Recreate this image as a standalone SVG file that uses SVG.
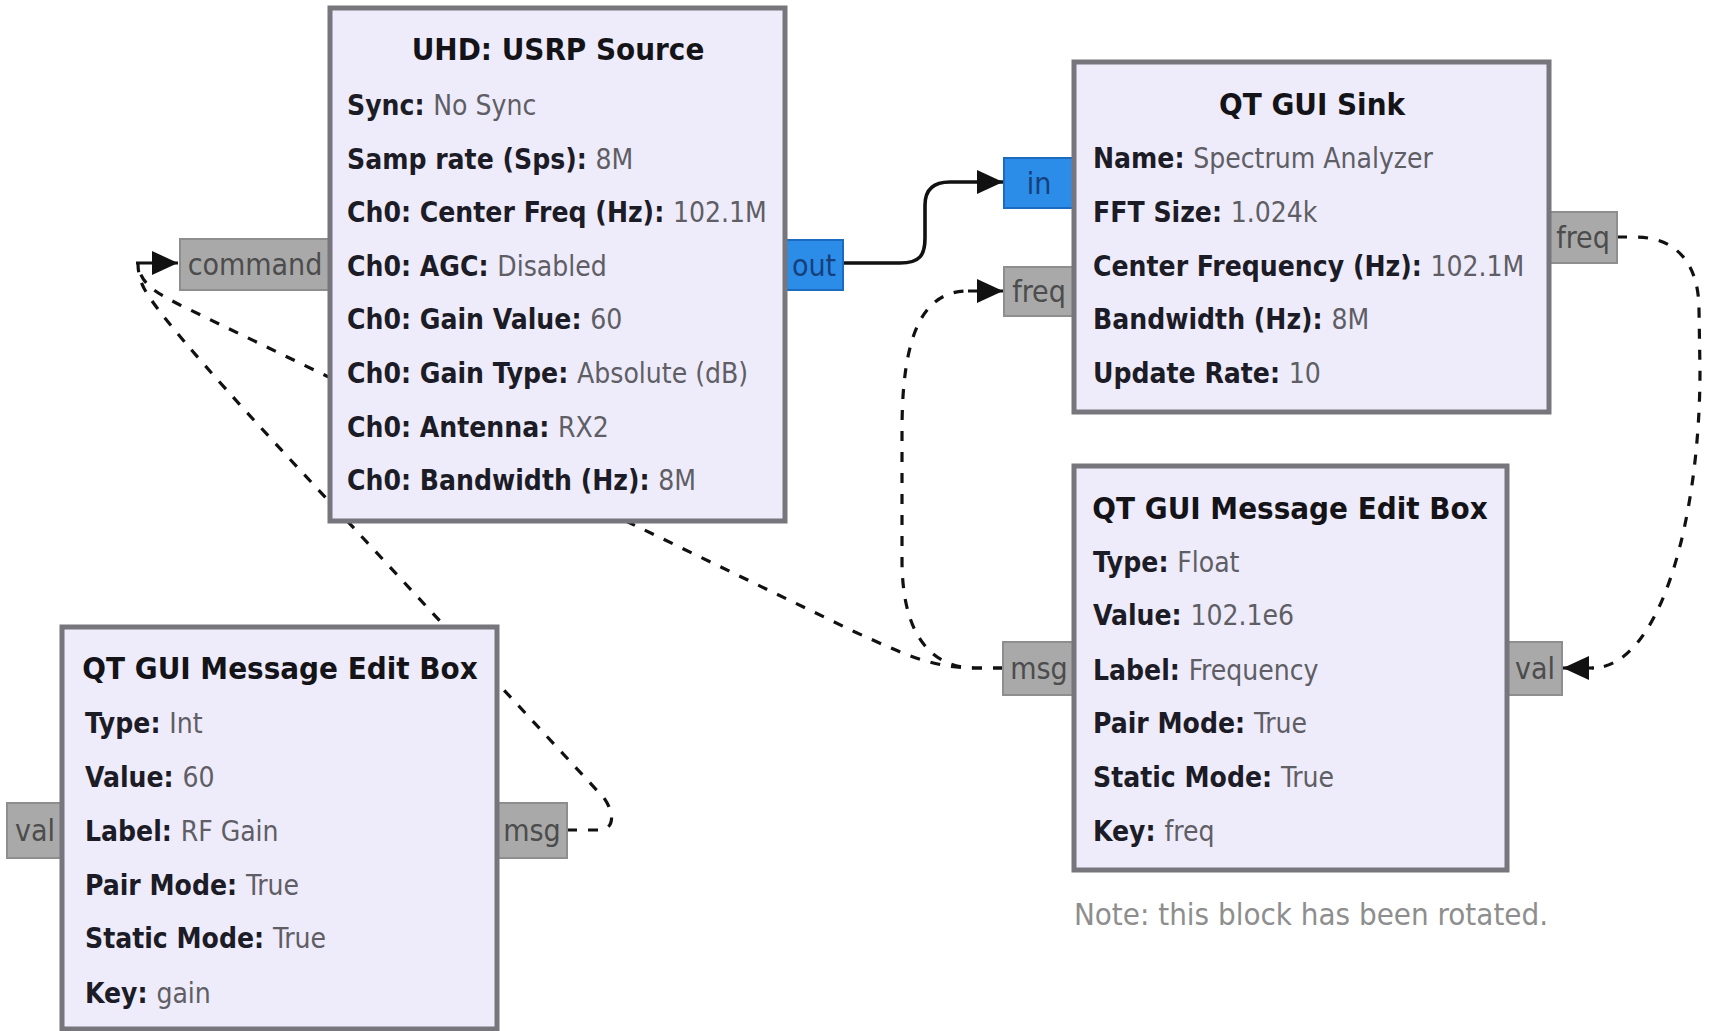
<svg xmlns="http://www.w3.org/2000/svg" width="1710" height="1031" viewBox="0 0 1710 1031">
<style>
  text { font-family: 'DejaVu Sans Condensed', 'DejaVu Sans', sans-serif; font-stretch: condensed; font-size: 28px; }
  .title { font-weight: bold; font-size: 31px; text-anchor: middle; fill: #141418; }
  .k { font-weight: bold; fill: #1c1c26; }
  .v { fill: #5e5e64; }
  .blk { fill: #eeebfb; stroke: #76767c; stroke-width: 5; }
  .port { fill: #a9a9a9; stroke: #8e8e8e; stroke-width: 2; }
  .bport { fill: #2c8de8; stroke: #1b6cc0; stroke-width: 2; }
  .ptxt { fill: #4c4c4c; text-anchor: middle; font-size: 30px; }
  .btxt { fill: #163f7c; text-anchor: middle; font-size: 30px; }
  .note { fill: #8e8e8e; text-anchor: middle; font-size: 31px; }
  .dash { fill: none; stroke: #111; stroke-width: 3.2; stroke-dasharray: 10 11; }
  .solid { fill: none; stroke: #111; stroke-width: 3.6; }
  .stub { fill: none; stroke: #111; stroke-width: 3.2; }
</style>
<defs>
  <marker id="arrow" markerUnits="userSpaceOnUse" viewBox="0 0 26 24" refX="26" refY="12" markerWidth="26" markerHeight="24" orient="auto">
    <path d="M0,0 L26,12 L0,24 Z" fill="#111"/>
  </marker>
</defs>
<rect width="1710" height="1031" fill="#ffffff"/>

<g id="connectors">
  <g id="conn-out-in">
    <path class="solid" d="M843,263 L900,263 C920,263 925,255 925,238 L925,205 C925,190 933,182 950,182 L1003,182" marker-end="url(#arrow)"/>
  </g>
  <g id="conn-freq-val">
    <path class="dash" d="M1617,237 L1635,237 C1675,237 1699,262 1699,310 L1700,370 C1700,520 1660,668 1592,668"/>
    <path class="stub" d="M1594,668 L1563,668" marker-end="url(#arrow)"/>
  </g>
  <g id="conn-msg-freq">
    <path class="dash" d="M1003,668 L975,668 C935,668 902,640 902,560 L902,430 C902,330 925,291 968,291"/>
    <path class="stub" d="M968,291 L1003,291" marker-end="url(#arrow)"/>
  </g>
  <g id="conn-msg-command">
    <path class="dash" d="M1003,668 L975,668 C930,668 900,652 855,632 L180,305 C155,292 140,284 138,263"/>
  </g>
  <g id="conn-gainmsg-command">
    <path class="dash" d="M567,830 L598,830 C616,830 614,812 604,798 L300,470 C230,395 165,322 148,295 C140,283 138,273 138,263"/>
    <path class="stub" d="M136,263 L178,263" marker-end="url(#arrow)"/>
  </g>
</g>

<g id="usrp-source">
  <rect class="port" x="180" y="239" width="152" height="51"/>
  <text class="ptxt" x="255" y="275">command</text>
  <rect class="bport" x="783" y="240" width="60" height="50"/>
  <text class="btxt" x="814" y="276">out</text>
  <rect class="blk" x="330" y="8" width="455" height="513"/>
  <text class="title" x="558" y="60">UHD: USRP Source</text>
  <text x="347" y="115"><tspan class="k">Sync: </tspan><tspan class="v">No Sync</tspan></text>
  <text x="347" y="169"><tspan class="k">Samp rate (Sps): </tspan><tspan class="v">8M</tspan></text>
  <text x="347" y="222"><tspan class="k">Ch0: Center Freq (Hz): </tspan><tspan class="v">102.1M</tspan></text>
  <text x="347" y="276"><tspan class="k">Ch0: AGC: </tspan><tspan class="v">Disabled</tspan></text>
  <text x="347" y="329"><tspan class="k">Ch0: Gain Value: </tspan><tspan class="v">60</tspan></text>
  <text x="347" y="383"><tspan class="k">Ch0: Gain Type: </tspan><tspan class="v">Absolute (dB)</tspan></text>
  <text x="347" y="437"><tspan class="k">Ch0: Antenna: </tspan><tspan class="v">RX2</tspan></text>
  <text x="347" y="490"><tspan class="k">Ch0: Bandwidth (Hz): </tspan><tspan class="v">8M</tspan></text>
</g>

<g id="qt-gui-sink">
  <rect class="bport" x="1004" y="158" width="72" height="50"/>
  <text class="btxt" x="1039" y="194">in</text>
  <rect class="port" x="1004" y="267" width="72" height="49"/>
  <text class="ptxt" x="1039" y="302">freq</text>
  <rect class="port" x="1547" y="212" width="70" height="51"/>
  <text class="ptxt" x="1583" y="248">freq</text>
  <rect class="blk" x="1074" y="62" width="475" height="350"/>
  <text class="title" x="1312" y="115">QT GUI Sink</text>
  <text x="1093" y="168"><tspan class="k">Name: </tspan><tspan class="v">Spectrum Analyzer</tspan></text>
  <text x="1093" y="222"><tspan class="k">FFT Size: </tspan><tspan class="v">1.024k</tspan></text>
  <text x="1093" y="276"><tspan class="k">Center Frequency (Hz): </tspan><tspan class="v">102.1M</tspan></text>
  <text x="1093" y="329"><tspan class="k">Bandwidth (Hz): </tspan><tspan class="v">8M</tspan></text>
  <text x="1093" y="383"><tspan class="k">Update Rate: </tspan><tspan class="v">10</tspan></text>
</g>

<g id="msg-edit-freq">
  <rect class="port" x="1003" y="642" width="73" height="53"/>
  <text class="ptxt" x="1039" y="679">msg</text>
  <rect class="port" x="1505" y="642" width="57" height="53"/>
  <text class="ptxt" x="1535" y="679">val</text>
  <rect class="blk" x="1074" y="466" width="433" height="404"/>
  <text class="title" x="1290" y="519">QT GUI Message Edit Box</text>
  <text x="1093" y="572"><tspan class="k">Type: </tspan><tspan class="v">Float</tspan></text>
  <text x="1093" y="625"><tspan class="k">Value: </tspan><tspan class="v">102.1e6</tspan></text>
  <text x="1093" y="680"><tspan class="k">Label: </tspan><tspan class="v">Frequency</tspan></text>
  <text x="1093" y="733"><tspan class="k">Pair Mode: </tspan><tspan class="v">True</tspan></text>
  <text x="1093" y="787"><tspan class="k">Static Mode: </tspan><tspan class="v">True</tspan></text>
  <text x="1093" y="841"><tspan class="k">Key: </tspan><tspan class="v">freq</tspan></text>
  <text class="note" x="1311" y="925">Note: this block has been rotated.</text>
</g>

<g id="msg-edit-gain">
  <rect class="port" x="7" y="803" width="57" height="55"/>
  <text class="ptxt" x="35" y="841">val</text>
  <rect class="port" x="495" y="803" width="72" height="55"/>
  <text class="ptxt" x="532" y="841">msg</text>
  <rect class="blk" x="62" y="627" width="435" height="402"/>
  <text class="title" x="280" y="679">QT GUI Message Edit Box</text>
  <text x="85" y="733"><tspan class="k">Type: </tspan><tspan class="v">Int</tspan></text>
  <text x="85" y="787"><tspan class="k">Value: </tspan><tspan class="v">60</tspan></text>
  <text x="85" y="841"><tspan class="k">Label: </tspan><tspan class="v">RF Gain</tspan></text>
  <text x="85" y="895"><tspan class="k">Pair Mode: </tspan><tspan class="v">True</tspan></text>
  <text x="85" y="948"><tspan class="k">Static Mode: </tspan><tspan class="v">True</tspan></text>
  <text x="85" y="1003"><tspan class="k">Key: </tspan><tspan class="v">gain</tspan></text>
</g>
</svg>
